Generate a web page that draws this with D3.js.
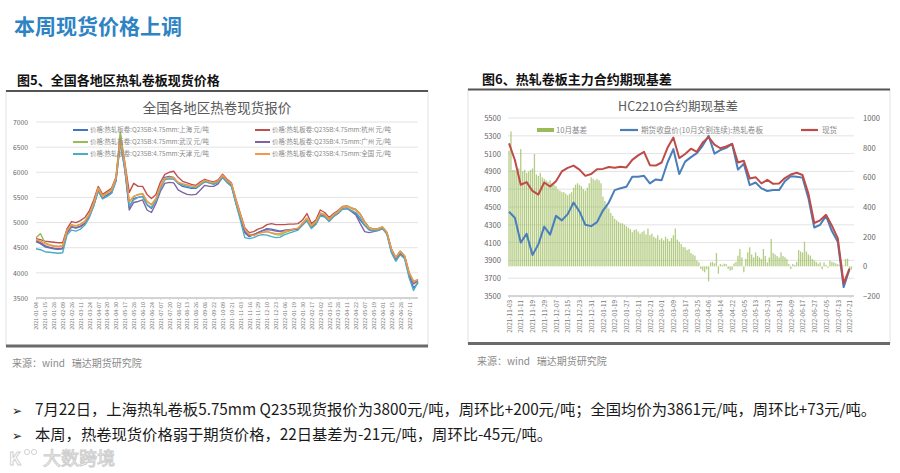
<!DOCTYPE html>
<html><head><meta charset="utf-8">
<script src="https://cdn.jsdelivr.net/npm/d3@7"></script>
<style>
html,body{margin:0;padding:0;background:#fff;}
svg{display:block;}
text{font-family:"Noto Sans CJK SC","Noto Sans","DejaVu Sans",sans-serif;}
</style></head><body>
<svg id="c" width="900" height="473"></svg>
<script>
// ---------- texts ----------
const pageTitle = "本周现货价格上调";
const leftHeading = "图5、全国各地区热轧卷板现货价格";
const rightHeading = "图6、热轧卷板主力合约期现基差";
const leftChartTitle = "全国各地区热卷现货报价";
const rightChartTitle = "HC2210合约期现基差";
const sourceText = "来源：wind   瑞达期货研究院";
const bullets = [
  "7月22日，上海热轧卷板5.75mm Q235现货报价为3800元/吨，周环比+200元/吨；全国均价为3861元/吨，周环比+73元/吨。",
  "本周，热卷现货价格弱于期货价格，22日基差为-21元/吨，周环比-45元/吨。"
];

// ---------- left chart data (sampled every half tick interval) ----------
const leftTickLabels = ["2021-01-04","2021-01-15","2021-01-28","2021-02-09","2021-02-26","2021-03-11","2021-03-24","2021-04-07","2021-04-20","2021-04-30","2021-05-17","2021-05-28","2021-06-10","2021-06-24","2021-07-07","2021-07-20","2021-08-02","2021-08-13","2021-08-26","2021-09-08","2021-09-22","2021-10-09","2021-10-21","2021-11-03","2021-11-16","2021-11-29","2021-12-10","2021-12-23","2022-01-06","2022-01-19","2022-01-30","2022-02-17","2022-03-02","2022-03-15","2022-03-28","2022-04-11","2022-04-22","2022-05-07","2022-05-19","2022-06-01","2022-06-15","2022-06-28","2022-07-11"];
const leftYTicks = [3500,4000,4500,5000,5500,6000,6500,7000];
const leftNames = ["价格:热轧板卷:Q235B:4.75mm:上海 元/吨","价格:热轧板卷:Q235B:4.75mm:杭州 元/吨","价格:热轧板卷:Q235B:4.75mm:武汉 元/吨","价格:热轧板卷:Q235B:4.75mm:广州 元/吨","价格:热轧板卷:Q235B:4.75mm:天津 元/吨","价格:热轧板卷:Q235B:4.75mm:全国 元/吨"];
const leftColors = ["#4472c4","#c0504d","#9bbb59","#8064a2","#4bacc6","#f79646"];

const shanghai = [4620,4580,4520,4500,4480,4470,4480,4800,4920,4900,
4930,4990,5140,5350,5650,5480,5550,5600,5850,6750,
6100,5300,5480,5500,5520,5350,5280,5430,5700,5900,
5920,5900,5780,5720,5700,5680,5680,5750,5820,5790,
5770,5800,5930,5820,5750,5400,5100,4800,4720,4760,
4800,4840,4880,4870,4850,4830,4850,4860,4870,4880,
4950,5060,4900,4980,5160,5130,5040,5130,5190,5280,
5290,5230,5180,5050,4940,4860,4840,4850,4890,4780,
4430,4260,4380,4300,3950,3700,3800];
const hangzhou = [4680,4660,4630,4620,4610,4600,4600,4880,5020,5000,
5040,5100,5230,5450,5720,5560,5620,5680,5900,6700,
6200,5600,5780,5720,5720,5560,5480,5560,5800,5960,
6000,6020,5900,5820,5790,5760,5740,5810,5860,5830,
5810,5850,5960,5860,5790,5470,5180,4900,4800,4820,
4870,4900,4960,4980,4960,4960,4960,4970,4970,4980,
5050,5180,4980,5050,5250,5200,5100,5180,5240,5320,
5330,5290,5260,5170,5020,4900,4870,4880,4910,4800,
4480,4300,4430,4330,4000,3820,3850];
const wuhan = [4700,4780,4600,4560,4540,4530,4540,4850,4960,4940,
4970,5030,5170,5390,5690,5530,5590,5650,5890,6800,
6150,5400,5520,5560,5580,5420,5360,5480,5730,5870,
5880,5870,5800,5770,5750,5730,5720,5780,5840,5810,
5790,5820,5930,5830,5770,5440,5150,4870,4770,4760,
4800,4810,4820,4790,4760,4750,4800,4830,4860,4890,
4990,5090,4940,5020,5190,5160,5070,5160,5220,5310,
5330,5290,5260,5170,5010,4900,4870,4880,4920,4810,
4480,4310,4430,4340,4010,3830,3870];
const guangzhou = [4640,4600,4540,4510,4490,4480,4490,4800,4910,4890,
4920,4980,5120,5340,5640,5480,5530,5590,5830,6600,
6050,5250,5400,5420,5450,5250,5200,5380,5620,5780,
5800,5790,5650,5600,5560,5550,5560,5650,5740,5720,
5720,5770,5900,5800,5730,5400,5100,4820,4740,4760,
4800,4840,4860,4850,4830,4820,4840,4850,4860,4870,
4960,5050,4900,4980,5150,5120,5030,5120,5180,5270,
5280,5220,5150,4980,4820,4800,4820,4840,4880,4780,
4450,4280,4400,4310,3980,3780,3840];
const tianjin = [4480,4460,4420,4410,4400,4390,4400,4760,4850,4830,
4870,4950,5100,5330,5620,5470,5520,5580,5820,6600,
6050,5330,5450,5500,5520,5360,5300,5420,5680,5850,
5870,5860,5780,5750,5720,5700,5690,5750,5810,5790,
5760,5800,5900,5800,5720,5380,5050,4700,4680,4700,
4740,4760,4750,4720,4700,4710,4760,4790,4820,4850,
4950,5030,4880,4960,5130,5110,5020,5120,5180,5270,
5280,5240,5200,5100,4950,4850,4830,4850,4880,4770,
4400,4230,4360,4280,3900,3650,3820];
const national = [4660,4630,4580,4550,4530,4520,4530,4840,4950,4930,
4960,5020,5160,5380,5680,5520,5580,5640,5880,6650,
6150,5420,5520,5550,5570,5420,5350,5470,5720,5880,
5900,5890,5800,5770,5750,5730,5710,5780,5840,5810,
5790,5830,5940,5840,5780,5450,5150,4880,4760,4740,
4780,4800,4820,4800,4780,4780,4830,4850,4870,4890,
4980,5080,4930,5010,5180,5150,5060,5150,5210,5300,
5320,5280,5250,5160,5000,4890,4860,4870,4910,4800,
4470,4300,4420,4330,4000,3820,3860];

// ---------- right chart data ----------
const rightTickLabels = ["2021-11-03","2021-11-11","2021-11-19","2021-11-29","2021-12-07","2021-12-15","2021-12-23","2021-12-31","2022-01-11","2022-01-19","2022-01-27","2022-02-11","2022-02-21","2022-03-01","2022-03-09","2022-03-17","2022-03-25","2022-04-06","2022-04-14","2022-04-22","2022-05-05","2022-05-13","2022-05-23","2022-05-31","2022-06-09","2022-06-17","2022-06-27","2022-07-05","2022-07-13","2022-07-21"];
const rightLeftTicks = [3500,3700,3900,4100,4300,4500,4700,4900,5100,5300,5500];
const rightRightTicks = [-200,0,200,400,600,800,1000];
const rightNames = ["10月基差","期货收盘价(10月交割连续):热轧卷板","现货"];
// daily basis (bars), 6 trading days per tick interval
const basis = [780,910,650,650,640,660,
790,640,650,630,640,650,
660,757,620,610,630,600,
590,580,570,580,560,550,
540,520,510,500,500,490,
480,490,500,530,550,560,
550,540,520,510,530,560,
600,590,580,590,580,560,
470,440,410,390,360,340,
320,310,300,290,290,280,
270,260,250,230,245,250,
235,220,230,240,215,255,
210,220,200,190,210,180,
190,175,200,185,170,190,
210,255,180,166,150,130,
128,110,117,90,80,72,
40,27,-18,-30,-40,-20,
-101,27,30,20,90,-50,
16,10,18,16,-18,-29,
-25,20,30,72,117,60,
-40,50,94,128,80,60,
94,70,60,49,117,70,
27,60,184,90,80,70,
60,94,70,61,49,16,
-18,16,10,30,110,100,
94,166,100,80,72,50,
40,30,18,27,-20,27,
10,-10,38,30,27,20,
15,10,20,5,49,52,
-18,-21];
// futures and spot, sampled every 3 trading days (half tick interval)
const futures = [4446,4380,4100,4200,3960,4080,4280,4190,4400,4350,
4420,4550,4450,4300,4285,4330,4460,4550,4690,4710,
4727,4840,4840,4850,4765,4810,4800,5000,5150,4870,
5010,5060,5105,5190,5300,5100,5140,5165,5210,4920,
4985,4746,4775,4709,4680,4690,4690,4790,4845,4840,
4830,4600,4270,4300,4400,4230,4110,3600,3800];
const spot = [5215,5028,4750,4780,4680,4640,4775,4730,4790,4900,
4940,4965,4920,4850,4870,4925,4928,4950,4942,4952,
4945,5030,5080,5120,4970,4965,5000,5165,5280,5050,
5095,5155,5120,5225,5285,5200,5160,5180,5210,5000,
5020,4821,4835,4765,4805,4760,4765,4825,4865,4885,
4860,4650,4320,4350,4412,4290,4150,3640,3809];

// ---------- drawing ----------
const svg = d3.select('#c');
svg.append('rect').attr('width',900).attr('height',473).attr('fill','#fff');

svg.append('text').attr('x',14).attr('y',34).attr('font-size',21).attr('font-weight','bold')
  .attr('fill','#2e83c3').text(pageTitle);

function panel(x0,x1,yTop,yBot,heading,hx,hy){
  svg.append('rect').attr('x',x0).attr('y',yTop).attr('width',x1-x0).attr('height',yBot-yTop)
    .attr('fill','#fff').attr('stroke','#e2e2e2').attr('stroke-width',1);
  svg.append('line').attr('x1',x0).attr('x2',x1).attr('y1',yTop).attr('y2',yTop)
    .attr('stroke','#555').attr('stroke-width',2);
  svg.append('line').attr('x1',x0).attr('x2',x1).attr('y1',yBot).attr('y2',yBot)
    .attr('stroke','#6a6a6a').attr('stroke-width',3);
  svg.append('text').attr('x',hx).attr('y',hy).attr('font-size',13).attr('font-weight','bold')
    .attr('fill','#111').text(heading);
  svg.append('text').attr('x',hx-5).attr('y',yBot+21).attr('font-size',10)
    .attr('fill','#8a8a8a').style('white-space','pre').text(sourceText);
}
panel(6,428,91,346,leftHeading,17,85);
panel(468,890,89.5,343.5,rightHeading,482,84);

// ===== Left chart =====
const lx = d3.scaleLinear().domain([0,43]).range([36,418]);
const ly = d3.scaleLinear().domain([3500,7000]).range([298,122]);
const gl = svg.append('g');
gl.append('text').attr('x',217).attr('y',113).attr('text-anchor','middle').attr('font-size',13.5)
  .attr('fill','#595959').text(leftChartTitle);
gl.append('g').selectAll('line').data(leftYTicks.slice(1)).join('line')
  .attr('x1',36).attr('x2',418).attr('y1',d=>ly(d)).attr('y2',d=>ly(d))
  .attr('stroke','#dcdcdc').attr('stroke-width',0.8);
const lya = gl.append('g').attr('transform','translate(36,0)')
  .call(d3.axisLeft(ly).tickValues(leftYTicks).tickSize(0).tickPadding(8).tickFormat(d3.format('d')));
lya.select('.domain').remove();
lya.selectAll('text').attr('font-size',6.8).attr('fill','#666').attr('font-family','"Noto Sans","DejaVu Sans",sans-serif');
const lxa = gl.append('g').attr('transform','translate(0,298)')
  .call(d3.axisBottom(lx).tickValues(d3.range(leftTickLabels.length)).tickFormat(i=>leftTickLabels[i]).tickSize(2));
lxa.select('.domain').attr('stroke','#d4d4d4').attr('stroke-width',2).attr('d','M36,0H418');
lxa.selectAll('line').attr('stroke','#d4d4d4');
lxa.selectAll('text').attr('transform','rotate(-90)').attr('text-anchor','end')
  .attr('x',-4).attr('y',0).attr('dy','0.35em').attr('font-size',5.4).attr('fill','#777')
  .attr('font-family','"Noto Sans","DejaVu Sans",sans-serif');
const leftSeries = [shanghai,hangzhou,wuhan,guangzhou,tianjin,national];
const lline = d3.line().x((d,i)=>lx(i*0.5)).y(d=>ly(d));
leftSeries.forEach((s,si)=>{
  gl.append('path').attr('d',lline(s)).attr('fill','none')
    .attr('stroke',leftColors[si]).attr('stroke-width',1.4).attr('stroke-linejoin','round');
});
const legPos = [[73,130],[255,130],[73,142],[255,142],[73,154],[255,154]];
leftNames.forEach((n,i)=>{
  const [x,y] = legPos[i];
  gl.append('line').attr('x1',x).attr('x2',x+15).attr('y1',y).attr('y2',y)
    .attr('stroke',leftColors[i]).attr('stroke-width',2);
  gl.append('text').attr('x',x+17).attr('y',y).attr('dy','0.35em').attr('font-size',6.4)
    .attr('fill','#8a8a8a').text(n);
});

// ===== Right chart =====
const rx = d3.scaleLinear().domain([0,29]).range([509,849.5]);
const ryL = d3.scaleLinear().domain([3500,5500]).range([296,118]);
const ryR = d3.scaleLinear().domain([-200,1000]).range([296,118]);
const gr = svg.append('g');
gr.append('text').attr('x',678).attr('y',111).attr('text-anchor','middle').attr('font-size',12.5)
  .attr('fill','#595959').text(rightChartTitle);
gr.append('g').selectAll('line').data(rightLeftTicks.slice(1)).join('line')
  .attr('x1',508).attr('x2',854).attr('y1',d=>ryL(d)).attr('y2',d=>ryL(d))
  .attr('stroke','#dcdcdc').attr('stroke-width',0.8);
const rla = gr.append('g').attr('transform','translate(508,0)')
  .call(d3.axisLeft(ryL).tickValues(rightLeftTicks).tickSize(0).tickPadding(7).tickFormat(d3.format('d')));
rla.select('.domain').remove();
rla.selectAll('text').attr('font-size',7.6).attr('fill','#666').attr('font-family','"Noto Sans","DejaVu Sans",sans-serif');
const rra = gr.append('g').attr('transform','translate(854,0)')
  .call(d3.axisRight(ryR).tickValues(rightRightTicks).tickSize(0).tickPadding(9).tickFormat(d3.format('d')));
rra.select('.domain').remove();
rra.selectAll('text').attr('font-size',7.6).attr('fill','#666').attr('font-family','"Noto Sans","DejaVu Sans",sans-serif');
const rxa = gr.append('g').attr('transform','translate(0,296)')
  .call(d3.axisBottom(rx).tickValues(d3.range(rightTickLabels.length)).tickFormat(i=>rightTickLabels[i]).tickSize(2));
rxa.select('.domain').attr('stroke','#d4d4d4').attr('stroke-width',2).attr('d','M508,0H854');
rxa.selectAll('line').attr('stroke','#d4d4d4');
rxa.selectAll('text').attr('transform','rotate(-90)').attr('text-anchor','end')
  .attr('x',-4).attr('y',0).attr('dy','0.35em').attr('font-size',6.4).attr('fill','#777')
  .attr('font-family','"Noto Sans","DejaVu Sans",sans-serif');
const bw = 1.3;
gr.append('g').selectAll('rect').data(basis).join('rect')
  .attr('x',(d,i)=>rx(i/6)-bw/2).attr('width',bw)
  .attr('y',d=>ryR(Math.max(0,d))).attr('height',d=>Math.abs(ryR(d)-ryR(0)))
  .attr('fill','#9bbb59').attr('opacity',0.75);
const rline = d3.line().x((d,i)=>rx(i*0.5)).y(d=>ryL(d));
gr.append('path').attr('d',rline(futures)).attr('fill','none').attr('stroke','#4a7ebb').attr('stroke-width',2).attr('stroke-linejoin','round');
gr.append('path').attr('d',rline(spot)).attr('fill','none').attr('stroke','#be4b48').attr('stroke-width',2).attr('stroke-linejoin','round');
gr.append('rect').attr('x',537).attr('y',128).attr('width',17).attr('height',4).attr('fill','#9bbb59');
gr.append('text').attr('x',556).attr('y',130).attr('dy','0.35em').attr('font-size',7.6).attr('fill','#8a8a8a').text(rightNames[0]);
gr.append('line').attr('x1',620).attr('x2',638).attr('y1',130).attr('y2',130).attr('stroke','#4a7ebb').attr('stroke-width',2.2);
gr.append('text').attr('x',641).attr('y',130).attr('dy','0.35em').attr('font-size',7.6).attr('fill','#8a8a8a').text(rightNames[1]);
gr.append('line').attr('x1',801).attr('x2',818).attr('y1',130).attr('y2',130).attr('stroke','#be4b48').attr('stroke-width',2.2);
gr.append('text').attr('x',822).attr('y',130).attr('dy','0.35em').attr('font-size',7.6).attr('fill','#8a8a8a').text(rightNames[2]);

// ===== bullets =====
bullets.forEach((b,i)=>{
  const y = 415 + i*25;
  svg.append('text').attr('x',12).attr('y',y).attr('font-size',12).attr('fill','#222')
    .attr('font-family','"DejaVu Sans",sans-serif').text('➢');
  svg.append('text').attr('x',35).attr('y',y).attr('font-size',15.3).attr('fill','#1a1a1a').text(b);
});

// ===== watermark =====
const wm = svg.append('g').attr('opacity',0.8);
wm.append('text').attr('x',9).attr('y',465).attr('font-size',17).attr('font-weight','bold')
  .attr('fill','#fff').attr('stroke','#c8c8c8').attr('stroke-width',1).text('K');
wm.append('circle').attr('cx',27).attr('cy',452).attr('r',2.6).attr('fill','none').attr('stroke','#c8c8c8');
wm.append('circle').attr('cx',34).attr('cy',452).attr('r',2.6).attr('fill','none').attr('stroke','#c8c8c8');
wm.append('text').attr('x',43).attr('y',465).attr('font-size',18)
  .attr('fill','#fff').attr('stroke','#c4c4c4').attr('stroke-width',1).text('大数跨境');
</script></body></html>
